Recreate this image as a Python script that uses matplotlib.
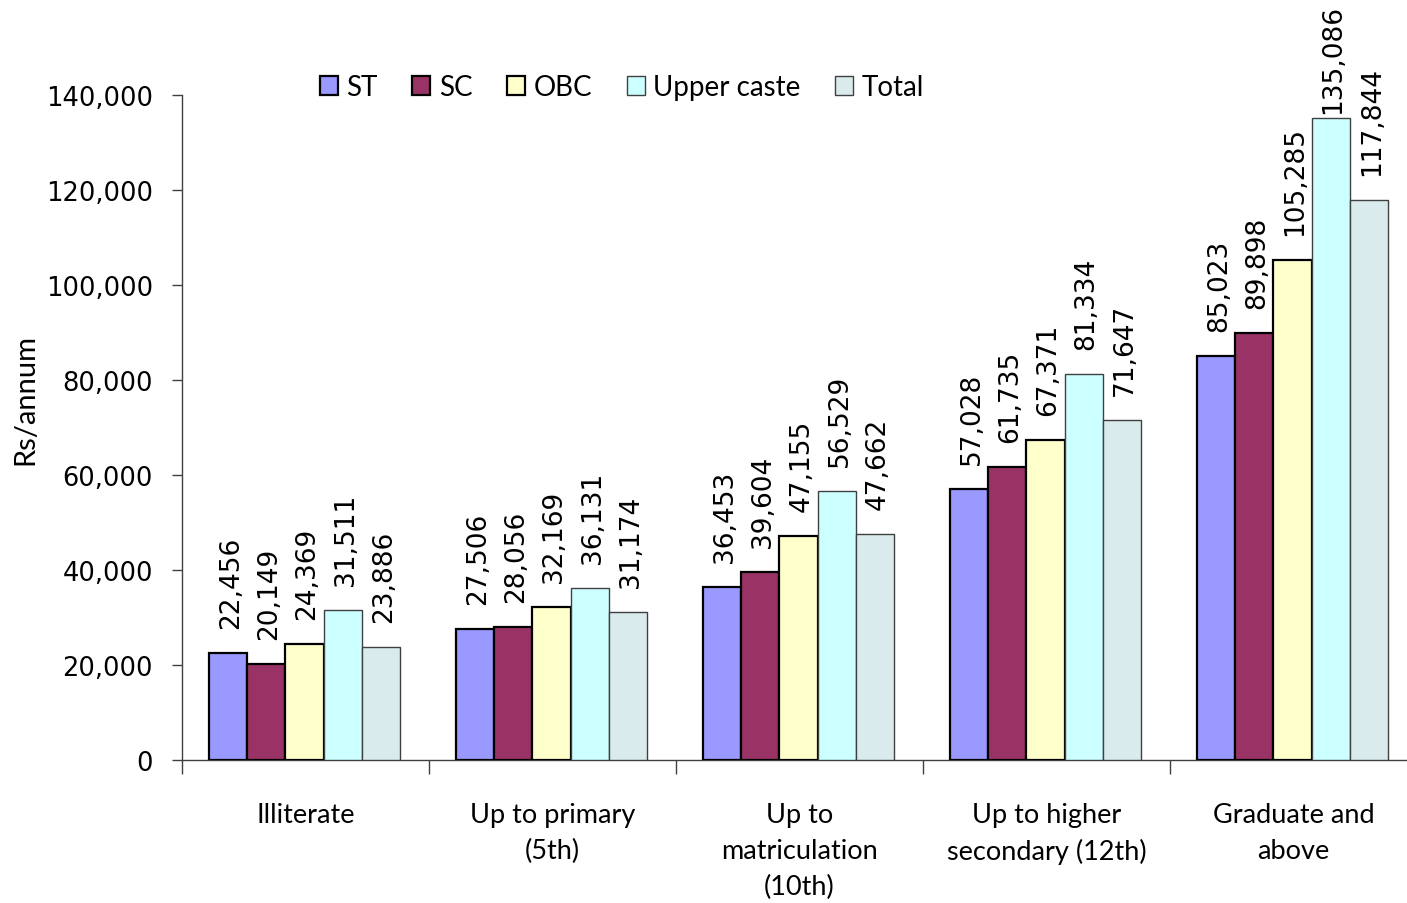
import matplotlib
matplotlib.use("Agg")
import matplotlib.pyplot as plt
import numpy as np
from matplotlib.ticker import FuncFormatter, FixedLocator

categories = ["Illiterate", "Up to primary\n(5th)", "Up to\nmatriculation\n(10th)",
              "Up to higher\nsecondary (12th)", "Graduate and\nabove"]
series_names = ["ST", "SC", "OBC", "Upper caste", "Total"]
st = [22456, 27506, 36453, 57028, 85023]
sc = [20149, 28056, 39604, 61735, 89898]
obc = [24369, 32169, 47155, 67371, 105285]
upper = [31511, 36131, 56529, 81334, 135086]
total = [23886, 31174, 47662, 71647, 117844]
series = [st, sc, obc, upper, total]

colors = ["#9999FF", "#993366", "#FFFFCC", "#CCFFFF", "#DAEBEE"]
edges = ["black", "black", "black", "#404040", "#404040"]
lws = [1.6, 1.6, 1.6, 1.0, 1.0]

W, H = 1407, 904
fig = plt.figure(figsize=(W / 100, H / 100), dpi=100)
left, right, top, bottom = 182, 1417, 96, 761
ax = fig.add_axes([left / W, 1 - bottom / H, (right - left) / W, (bottom - top) / H])

n = len(categories)
x = np.arange(n)
bw = 0.1547
for i, (vals, c, ec, lw, name) in enumerate(zip(series, colors, edges, lws, series_names)):
    pos = x + (i - 2) * bw - 0.004
    ax.bar(pos, vals, width=bw, color=c, edgecolor=ec, linewidth=lw, label=name, zorder=3)
    for px, v in zip(pos, vals):
        off = 18 if v < 130000 else 4
        ax.annotate(f"{v:,}", (px, v), xytext=(2, off), textcoords="offset points",
                    rotation=90, ha="center", va="bottom", fontsize=19,
                    family="DejaVu Sans", color="black")

ax.set_xlim(-0.5, n - 0.5)
ax.set_ylim(0, 140000)
ax.set_yticks(np.arange(0, 140001, 20000))
ax.yaxis.set_major_formatter(FuncFormatter(lambda v, p: f"{int(v):,}"))
ax.tick_params(axis="y", labelsize=18.5, length=7, width=1, color="#404040", pad=14)
for lab in ax.get_yticklabels():
    lab.set_family("DejaVu Sans")

ax.xaxis.set_major_locator(FixedLocator(np.arange(-0.5, n, 1.0)))
ax.xaxis.set_major_formatter(FuncFormatter(lambda v, p: ""))
ax.xaxis.set_minor_locator(FixedLocator(x))
ax.set_xticklabels(categories, minor=True)
ax.tick_params(axis="x", which="major", length=10, width=1, color="#404040")
ax.tick_params(axis="x", which="minor", length=0, pad=30, labelsize=19.5)
for lab in ax.get_xticklabels(minor=True):
    lab.set_family("Lato")
    lab.set_linespacing(1.55)
    lab.set_verticalalignment("top")

for s in ["top", "right"]:
    ax.spines[s].set_visible(False)
for s in ["left", "bottom"]:
    ax.spines[s].set_color("#404040")
    ax.spines[s].set_linewidth(1)

fig.text(25 / W, 1 - 400 / H, "Rs/annum", rotation=90, ha="center", va="center",
         fontsize=21, family="Lato")

fig.legend(loc="center", bbox_to_anchor=(622 / W, 1 - 88 / H), ncol=5, frameon=False,
           prop={"family": "Lato", "size": 20}, handlelength=0.65, handleheight=0.65,
           handletextpad=0.3, columnspacing=1.25, borderaxespad=0)

fig.savefig("out.png", dpi=100)
